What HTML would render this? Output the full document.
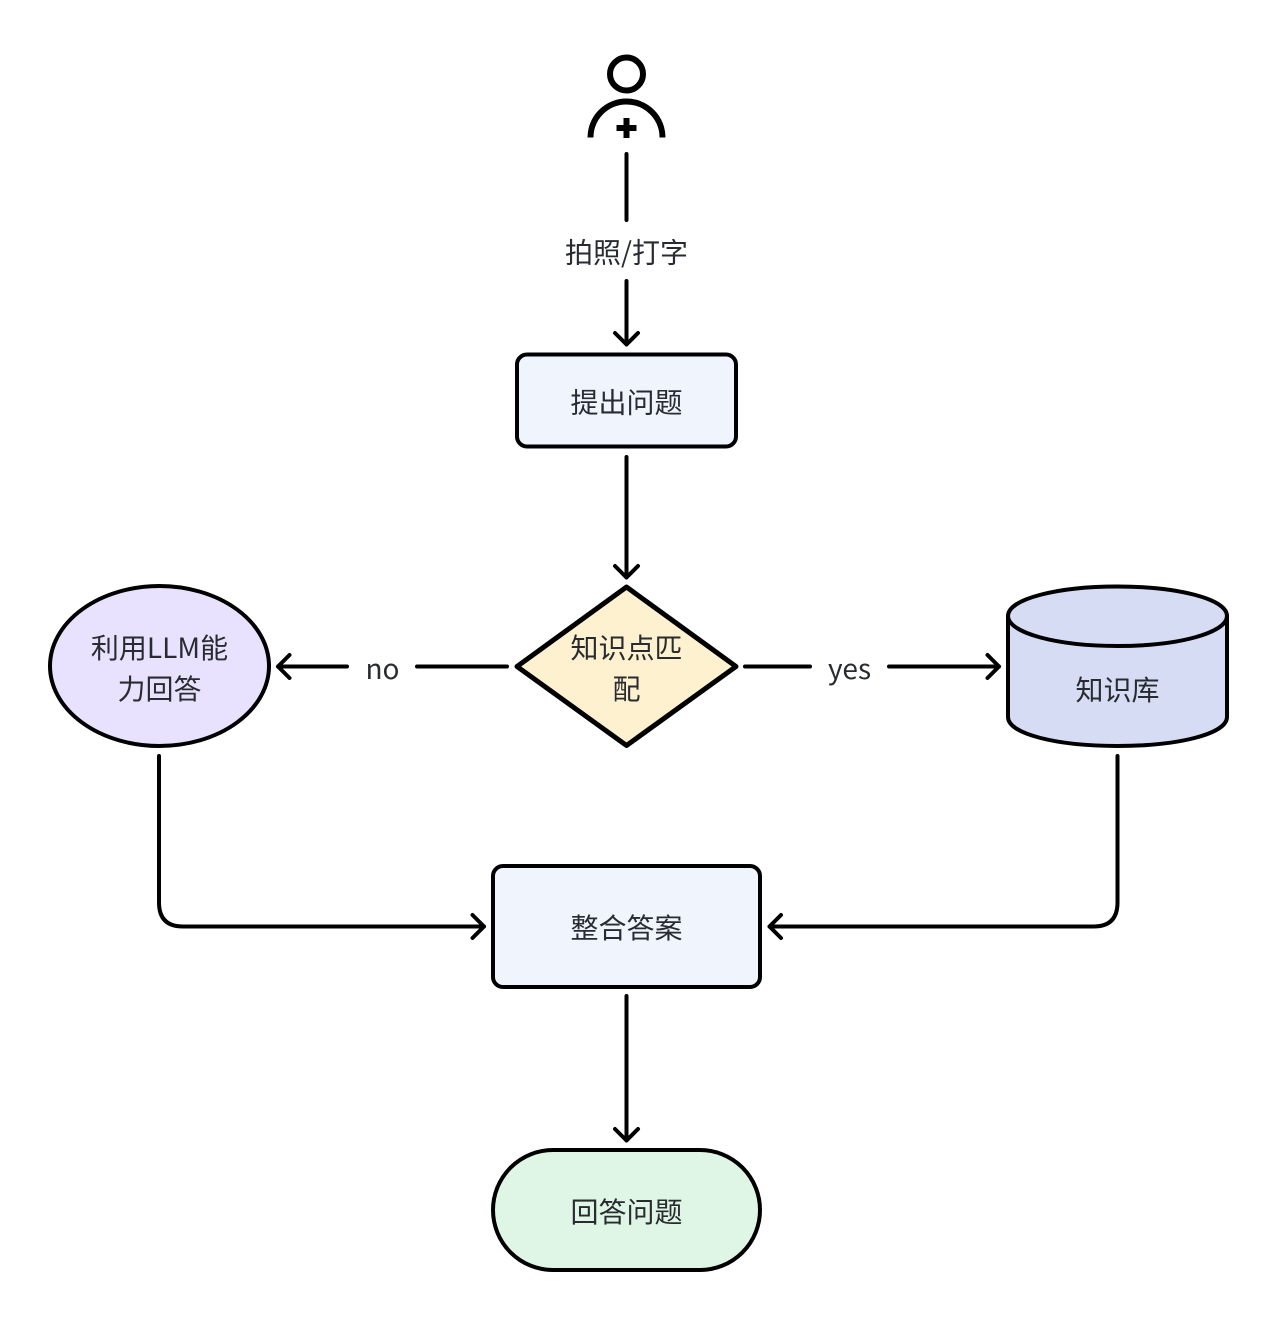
<!DOCTYPE html>
<html><head><meta charset="utf-8"><style>
html,body{margin:0;padding:0;background:#fff}
svg{display:block}
text{font-family:"Noto Sans CJK SC","Liberation Sans",sans-serif;font-size:28px;fill:#282b30;text-anchor:middle}
.e{fill:none;stroke:#000;stroke-width:4;stroke-linecap:round;stroke-linejoin:round}
.s{stroke:#000;stroke-width:4;stroke-linejoin:round}
</style></head><body>
<svg width="1278" height="1322" viewBox="0 0 1278 1322" xmlns="http://www.w3.org/2000/svg">
<rect width="1278" height="1322" fill="#fff"/>
<!-- person -->
<circle cx="626.500" cy="74" r="16.500" fill="none" stroke="#000" stroke-width="6"/>
<path d="M590.500 137.500A36 36 0 0 1 662.500 137.500" fill="none" stroke="#000" stroke-width="6"/>
<path d="M616.500 128H636.500M626.500 118V138" fill="none" stroke="#000" stroke-width="6"/>
<!-- edges -->
<path class="e" d="M626.500 154V220M626.500 281V344.500M615 333L626.500 344.500L638 333"/>
<path class="e" d="M626.500 457V577.500M615 566L626.500 577.500L638 566"/>
<path class="e" d="M507 666.500H417M347 666.500H278M289.500 655L278 666.500L289.500 678"/>
<path class="e" d="M745 666.500H810M889 666.500H999M987.500 655L999 666.500L987.500 678"/>
<path class="e" d="M159 756V902.500Q159 926.500 183 926.500H484M472.500 915L484 926.500L472.500 938"/>
<path class="e" d="M1117.500 756V902.500Q1117.500 926.500 1093.500 926.500H769.500M781 915L769.500 926.500L781 938"/>
<path class="e" d="M626.500 996V1140.500M615 1129L626.500 1140.500L638 1129"/>
<!-- nodes -->
<rect class="s" x="517" y="354.500" width="219" height="92" rx="10" fill="#eff4fd"/>
<path class="s" style="stroke-width:5" d="M626.500 587L736 666.500L626.500 745.500L517 666.500Z" fill="#fdf1d0"/>
<ellipse class="s" cx="159.500" cy="666" rx="109.500" ry="80" fill="#e9e2fe"/>
<path class="s" d="M1008 616C1008 599 1057 586.500 1117.500 586.500C1178 586.500 1227 599 1227 616V717C1227 734 1178 746 1117.500 746C1057 746 1008 734 1008 717Z" fill="#d6dcf4"/>
<path class="e" d="M1008 616C1008 633 1057 646 1117.500 646C1178 646 1227 633 1227 616"/>
<rect class="s" x="493" y="866" width="267" height="121" rx="10" fill="#eff4fd"/>
<rect class="s" x="493" y="1150" width="267" height="120" rx="60" fill="#dff5e5"/>
<!-- labels -->
<text x="626.500" y="262.500">拍照/打字</text>
<text x="626.500" y="412.500">提出问题</text>
<text x="626.500" y="658">知识点匹</text>
<text x="626.500" y="699">配</text>
<text x="159.500" y="658">利用LLM能</text>
<text x="159.500" y="699">力回答</text>
<text x="382.500" y="679">no</text>
<text x="849.500" y="679">yes</text>
<text x="1117.500" y="700">知识库</text>
<text x="626.500" y="938">整合答案</text>
<text x="626.500" y="1222">回答问题</text>
</svg>
</body></html>
